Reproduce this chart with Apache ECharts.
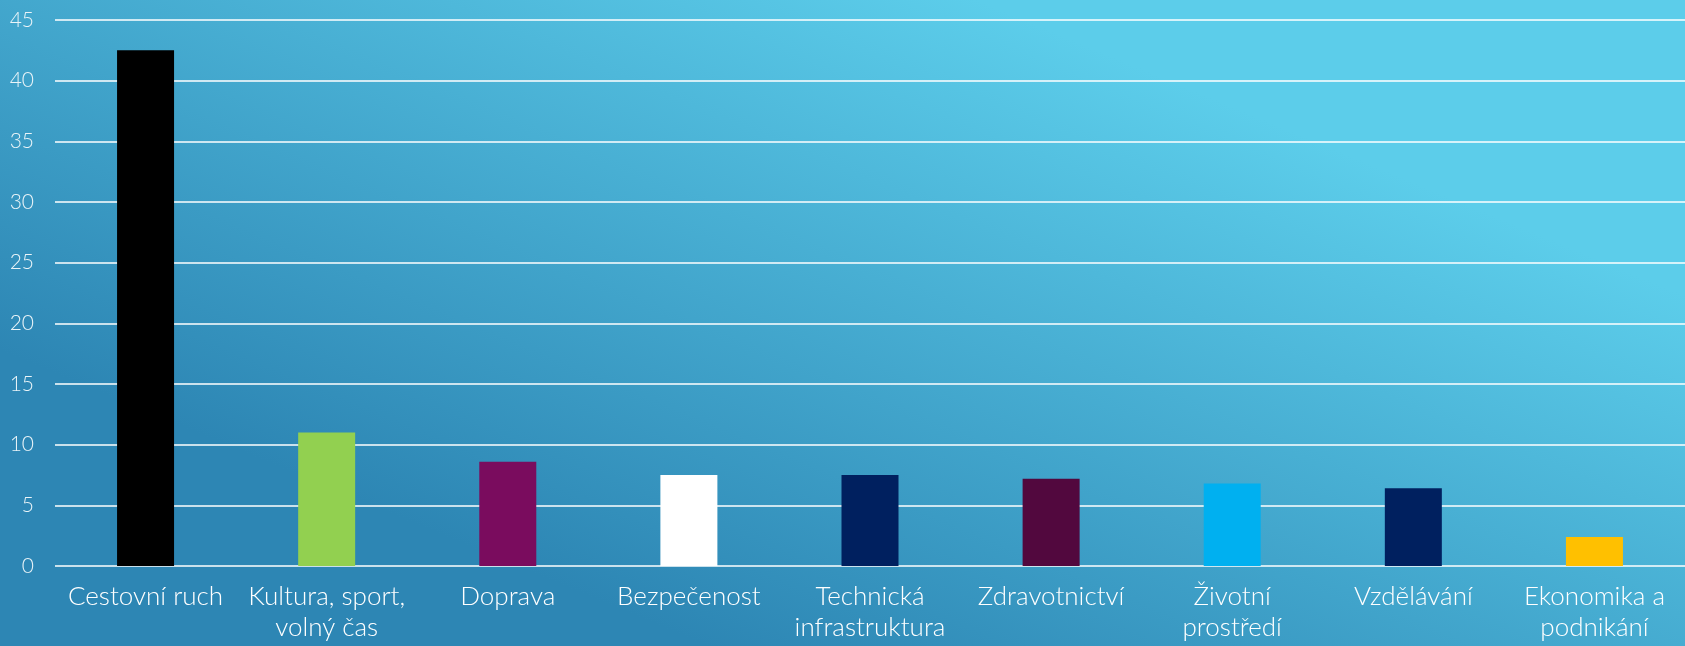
<!DOCTYPE html>
<html>
<head>
<meta charset="UTF-8">
<title>Oblasti</title>
<script src="https://cdn.jsdelivr.net/npm/echarts@6/dist/echarts.min.js"></script>
<style>
	html, body { margin: 0; padding: 0; }
	#main { width: 1685px; height: 646px; }
</style>
</head>
<body>
	<div id="main"></div>

	<script type="text/javascript">
		// data
		var categories = ['Cestovní ruch', 'Kultura, sport,\nvolný čas', 'Doprava', 'Bezpečenost',
			'Technická\ninfrastruktura', 'Zdravotnictví', 'Životní\nprostředí', 'Vzdělávání',
			'Ekonomika a\npodnikání'];
		var values = [42.5, 11, 8.6, 7.5, 7.5, 7.2, 6.8, 6.4, 2.4];
		var barColors = ['#000000', '#92D050', '#7A0C5E', '#FFFFFF', '#00205F', '#52083E',
			'#00B0F0', '#00205F', '#FFC000'];

		var myChart = echarts.init(document.getElementById('main'));
		myChart.setOption({
			backgroundColor : new echarts.graphic.LinearGradient(0.42, 1, 0.58, 0, [
				{ offset : 0, color : '#2D86B4' },
				{ offset : 1, color : '#5CCDEA' }
			]),
			grid : {
				left : 55,
				right : 0,
				top : 20,
				bottom : 80
			},
			xAxis : {
				type : 'category',
				data : categories,
				axisLine : { show : false },
				axisTick : { show : false },
				axisLabel : {
					color : '#FFFFFF',
					fontFamily : 'Lato',
					fontWeight : 300,
					fontSize : 26,
					lineHeight : 31,
					margin : 15,
					interval : 0
				}
			},
			yAxis : {
				type : 'value',
				min : 0,
				max : 45,
				interval : 5,
				axisLine : { show : false },
				axisTick : { show : false },
				axisLabel : {
					color : '#EAF4F8',
					fontFamily : 'Lato',
					fontWeight : 300,
					fontSize : 21,
					margin : 21
				},
				splitLine : {
					lineStyle : { color : '#FFFFFF', width : 1.5 }
				}
			},
			series : [ {
				type : 'bar',
				barWidth : 57,
				data : values,
				itemStyle : {
					color : function(p) {
						return barColors[p.dataIndex];
					}
				}
			} ]
		});
	</script>
</body>
</html>
